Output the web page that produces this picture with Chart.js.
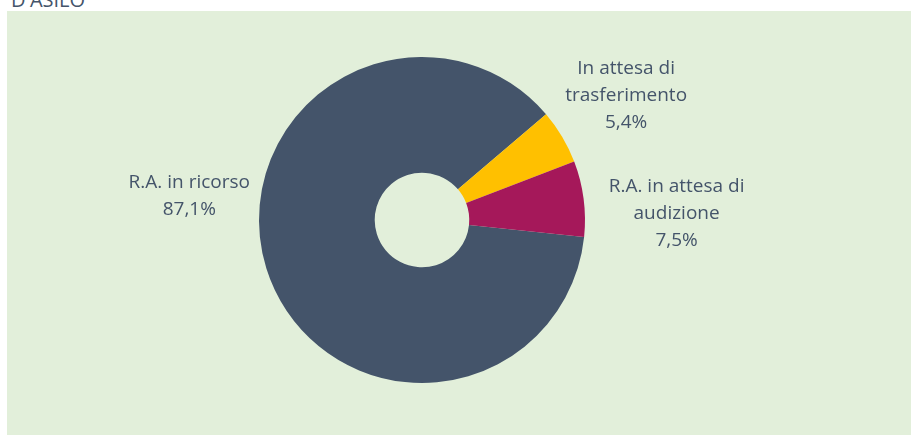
<!DOCTYPE html>
<html>
<head>
<meta charset="utf-8">
<script src="https://cdn.jsdelivr.net/npm/chart.js@4.4.7/dist/chart.umd.min.js"></script>
<style>
  html, body { margin: 0; padding: 0; background: #ffffff; }
  #wrap { position: relative; width: 911px; height: 435px; overflow: hidden; }
  #panel { position: absolute; left: 7px; top: 11px; width: 904px; height: 424px; background: #e2efda; }
  #title { position: absolute; left: 11px; top: -14px; font: 20px "Open Sans", sans-serif; color: #44546a; }
  #chart { position: absolute; left: 0; top: 0; }
</style>
</head>
<body>
<div id="wrap">
  <div id="panel"></div>
  <div id="title">D'ASILO</div>
  <canvas id="chart" width="911" height="435"></canvas>
</div>
<script>
const categories = ["R.A. in ricorso", "In attesa di trasferimento", "R.A. in attesa di audizione"];
const labelLines = [["R.A. in ricorso"], ["In attesa di", "trasferimento"], ["R.A. in attesa di", "audizione"]];
const shares = [87.1, 5.4, 7.5];
const colors = ["#44546a", "#ffc000", "#a5185a"];

// where each label sits relative to the outer edge of its slice (mid angle)
const labelNudge = [[-77, -72], [64, -41], [93, 15]];

const sliceLabels = {
  id: "sliceLabels",
  afterDatasetsDraw(chart) {
    const { ctx } = chart;
    const meta = chart.getDatasetMeta(0);
    ctx.save();
    ctx.fillStyle = "#44546a";
    ctx.textAlign = "center";
    ctx.textBaseline = "middle";
    ctx.font = '19px "Open Sans", sans-serif';
    meta.data.forEach((arc, i) => {
      const mid = (arc.startAngle + arc.endAngle) / 2;
      const x = arc.x + Math.cos(mid) * arc.outerRadius + labelNudge[i][0];
      const y = arc.y + Math.sin(mid) * arc.outerRadius + labelNudge[i][1];
      const lines = [...labelLines[i], shares[i].toFixed(1).replace(".", ",") + "%"];
      const lh = 27;
      const top = y - ((lines.length - 1) * lh) / 2;
      lines.forEach((t, k) => ctx.fillText(t, x, top + k * lh));
    });
    ctx.restore();
  },
};

new Chart(document.getElementById("chart"), {
  type: "doughnut",
  data: {
    labels: categories,
    datasets: [{
      data: shares,
      backgroundColor: colors,
      borderWidth: 0,
    }],
  },
  options: {
    responsive: false,
    animation: false,
    rotation: 96,
    cutout: "29%",
    layout: { padding: { left: 0, right: 67, top: 57, bottom: 52 } },
    plugins: {
      legend: { display: false },
      tooltip: { enabled: false },
    },
  },
  plugins: [sliceLabels],
});
</script>
</body>
</html>
